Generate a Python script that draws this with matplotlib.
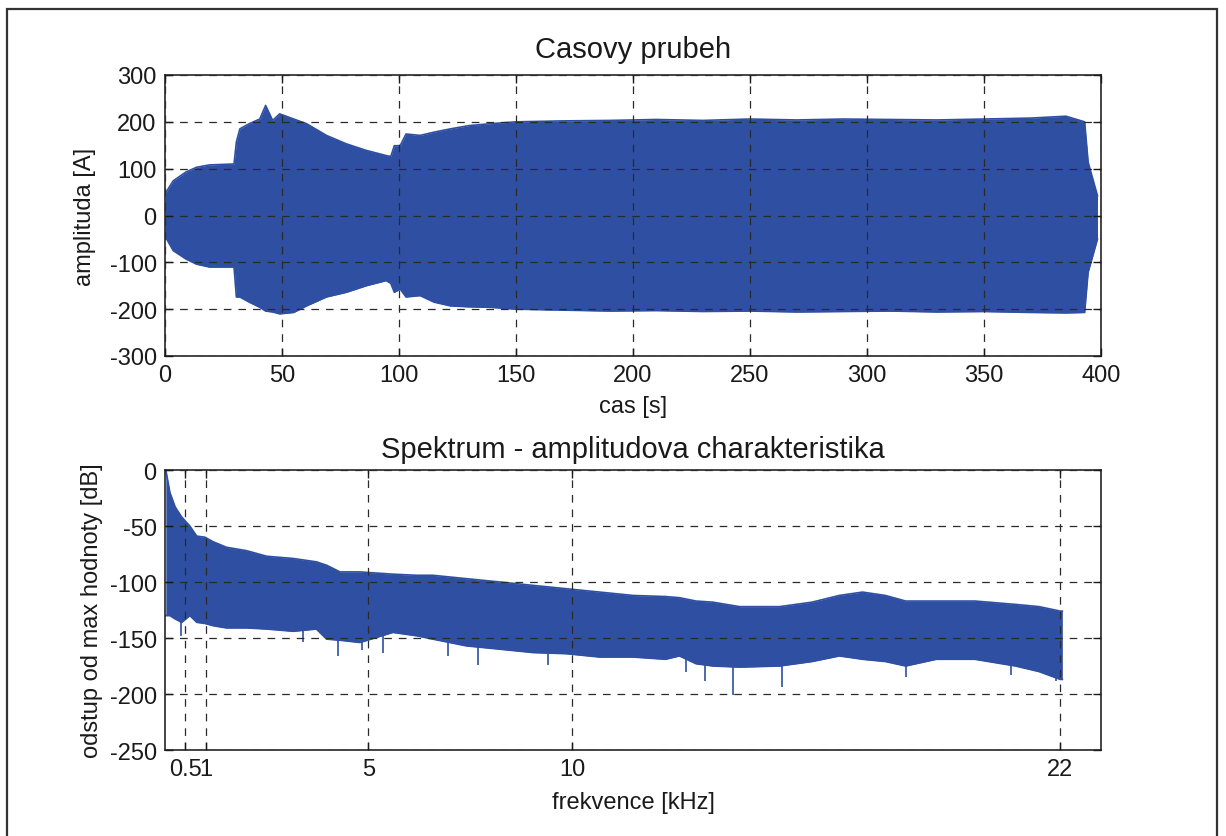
import matplotlib
matplotlib.use("Agg")
import matplotlib.pyplot as plt
from matplotlib.patches import Rectangle

plt.rcParams['font.family'] = ['Liberation Sans', 'DejaVu Sans']
plt.rcParams['lines.scale_dashes'] = False
plt.rcParams['axes.unicode_minus'] = False

# ---------------- data ----------------
# Time signal envelope: time [s], upper and lower amplitude [A]
t_env = [0, 3.5, 9, 13.5, 19, 29.5, 30.5, 32, 36, 40.5, 43, 46, 49, 55, 60.5,
         69, 77.5, 86, 94.5, 96.5, 98, 100.5, 103, 109, 115, 122, 130, 139, 150,
         170, 190, 210, 230, 250, 270, 290, 310, 330, 350, 370, 385, 393, 394.5,
         396.5, 398.5]
amp_upper = [46, 74, 93, 103, 108, 110, 157, 185, 196, 206, 235, 203, 217, 206, 196,
             171, 153, 139, 128, 126, 149, 149, 174, 171, 178, 185, 192, 196, 200,
             202, 203, 205, 203, 206, 204, 206, 205, 204, 206, 208, 212, 200, 114,
             78, 42]
amp_lower = [-44, -75, -93, -104, -110, -110, -174, -174, -185, -196, -204, -206, -210, -207, -193,
             -174, -164, -150, -139, -145, -164, -157, -174, -171, -185, -193, -195, -196, -200,
             -202, -204, -203, -205, -204, -206, -205, -204, -206, -205, -207, -208, -207, -121,
             -86, -50]

# Spectrum envelope: frequency [kHz], upper and lower level [dB]
f_env = [0.02, 0.12, 0.25, 0.41, 0.61, 0.78, 0.98, 1.18, 1.51, 2.0,
         2.5, 3.15, 3.72, 3.97, 4.3, 4.79, 5.6, 6.18, 6.58, 7.4,
         8.23, 9.04, 9.86, 10.68, 11.5, 12.3, 12.64, 13.05, 13.46, 14.12,
         15.1, 15.9, 16.57, 17.14, 17.7, 18.2, 18.95, 19.9, 20.9, 21.48,
         22.0, 22.05]
db_upper = [0, -20, -33, -42, -50, -59, -60, -64, -69, -72,
            -77, -79, -82, -85, -91, -91, -93, -94, -94, -97,
            -100, -103, -106, -109, -112, -113, -114, -117, -118, -122,
            -122, -118, -112, -109, -112, -117, -117, -117, -120, -122,
            -126, -126]
db_lower = [-130, -130, -133, -136, -130, -136, -137, -139, -141, -141,
            -142, -144, -142, -151, -152, -154, -145, -148, -151, -157,
            -160, -163, -164, -167, -167, -169, -166, -173, -175, -176,
            -175, -171, -166, -169, -171, -175, -169, -169, -175, -180,
            -187, -187]
# isolated downward spikes in the spectrum
spike_f = [0.4, 3.4, 4.25, 4.83, 5.35, 6.95, 7.7, 9.4, 12.8, 13.26, 13.95, 15.17, 18.2, 20.8, 21.9]
spike_db = [-148, -154, -166, -161, -163, -166, -174, -174, -180, -188, -201, -194, -185, -183, -188]

top_xticks = [0, 50, 100, 150, 200, 250, 300, 350, 400]
top_yticks = [-300, -200, -100, 0, 100, 200, 300]
bot_xticks = [0.5, 1, 5, 10, 22]
bot_xticklabels = ['0.5', '1', '5', '10', '22']
bot_yticks = [-250, -200, -150, -100, -50, 0]

# ---------------- figure ----------------
W, H = 1226, 837
fig = plt.figure(figsize=(W / 100, H / 100), dpi=100)
fig.patch.set_facecolor('white')

blue = '#2f50a2'
txt = '#1a1a1a'
fig.patches.append(Rectangle((7 / W, -0.01), (1217 - 7) / W, 1 - 10 / H + 0.01,
                             transform=fig.transFigure, fill=False,
                             edgecolor='#333333', linewidth=1.6))

def px_axes(l, t, r, b):
    return fig.add_axes([l / W, 1 - b / H, (r - l) / W, (b - t) / H])

ax1 = px_axes(165, 76, 1101, 357)
ax2 = px_axes(165, 471, 1101, 751)

for ax in (ax1, ax2):
    ax.tick_params(direction='in', length=6, width=1, top=True, right=True,
                   labelsize=17, colors=txt, pad=6)
    for s in ax.spines.values():
        s.set_color('#262626')
        s.set_linewidth(1.2)
    ax.grid(True, color='#2a2a2a', linestyle=(0, (5.5, 5)), linewidth=0.9)
    ax.set_axisbelow(False)

# top panel
ax1.fill_between(t_env, amp_lower, amp_upper, color=blue, linewidth=0, zorder=1)
ax1.plot(t_env, amp_upper, color=blue, linewidth=1.2, zorder=1)
ax1.plot(t_env, amp_lower, color=blue, linewidth=1.2, zorder=1)
ax1.set_xlim(0, 400)
ax1.set_ylim(-300, 300)
ax1.set_xticks(top_xticks)
ax1.set_yticks(top_yticks)
ax1.set_title('Casovy prubeh', fontsize=21, color=txt, pad=13)
ax1.set_xlabel('cas [s]', fontsize=17, color=txt, labelpad=6)
ax1.set_ylabel('amplituda [A]', fontsize=17, color=txt, labelpad=10)

# bottom panel
ax2.fill_between(f_env, db_lower, db_upper, color=blue, linewidth=0, zorder=1)
ax2.plot(f_env, db_upper, color=blue, linewidth=1.2, zorder=1)
ax2.plot(f_env, db_lower, color=blue, linewidth=1.2, zorder=1)
ax2.vlines(spike_f, spike_db, -130, color=blue, linewidth=1.2, zorder=1)
ax2.set_xlim(0, 23)
ax2.set_ylim(-250, 0)
ax2.set_xticks(bot_xticks)
ax2.set_xticklabels(bot_xticklabels)
ax2.set_yticks(bot_yticks)
ax2.set_title('Spektrum - amplitudova charakteristika', fontsize=21, color=txt, pad=9)
ax2.set_xlabel('frekvence [kHz]', fontsize=17, color=txt, labelpad=8)
ax2.set_ylabel('odstup od max hodnoty [dB]', fontsize=17, color=txt, labelpad=5)

fig.savefig('out.png', dpi=100)
